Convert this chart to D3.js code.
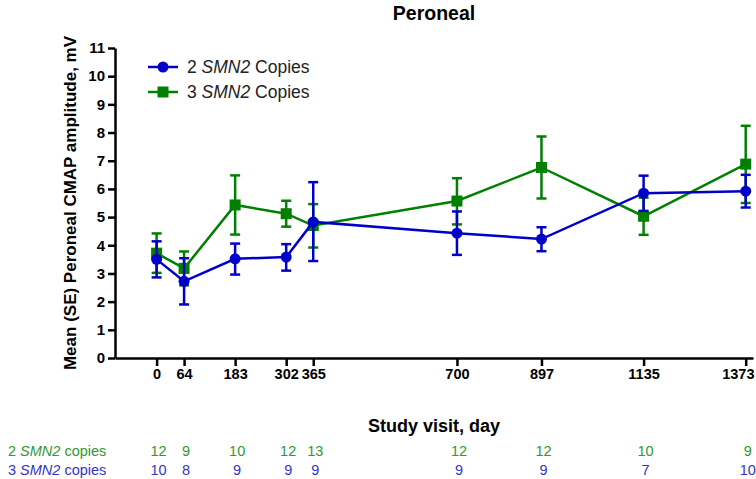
<!DOCTYPE html>
<html>
<head>
<meta charset="utf-8">
<script src="https://cdn.jsdelivr.net/npm/d3@7/dist/d3.min.js"></script>
<style>
  html, body { margin: 0; padding: 0; background: #fff; }
  svg { display: block; font-family: "Liberation Sans", Arial, sans-serif; }
</style>
</head>
<body>
<svg id="chart" width="756" height="479"></svg>
<script>
// Study visit days (x positions) and their tick labels
const days = [0, 64, 183, 302, 365, 700, 897, 1135, 1373];
const dayLabels = ["0", "64", "183", "302", "365", "700", "897", "1135", "1373"];

// 2 SMN2 copies: mean and SE bounds (mV)
const twoMean  = [3.50, 2.72, 3.52, 3.58, 4.83, 4.43, 4.22, 5.85, 5.92];
const twoLow   = [2.86, 1.90, 2.96, 3.10, 3.44, 3.66, 3.79, 5.22, 5.34];
const twoHigh  = [4.14, 3.54, 4.06, 4.04, 6.24, 5.20, 4.64, 6.47, 6.50];

// 3 SMN2 copies: mean and SE bounds (mV)
const threeMean = [3.72, 3.18, 5.43, 5.12, 4.70, 5.57, 6.76, 5.03, 6.88];
const threeLow  = [3.02, 2.58, 4.38, 4.66, 3.92, 4.74, 5.66, 4.37, 5.50];
const threeHigh = [4.42, 3.78, 6.48, 5.58, 5.46, 6.38, 7.86, 5.69, 8.24];

// Patients at each visit, as listed under the axis
const nRow1 = [12, 9, 10, 12, 13, 12, 12, 10, 9];
const nRow2 = [10, 8, 9, 9, 9, 9, 9, 7, 10];

const yTicks = d3.range(0, 12);

const blue = "#0000c8";
const green = "#008000";

const W = 756;
const svg = d3.select("#chart");

const x = d3.scaleLinear().domain([-97, 1390]).range([115, 753]);
const y = d3.scaleLinear().domain([0, 11]).range([358, 48]);

// Title
svg.append("text")
  .attr("x", 434).attr("y", 20)
  .attr("text-anchor", "middle")
  .attr("font-size", 19.5).attr("font-weight", "bold")
  .text("Peroneal");

// Y axis
const yAxis = svg.append("g")
  .attr("transform", `translate(${x.range()[0]},0)`)
  .call(d3.axisLeft(y).tickValues(yTicks).tickSize(7).tickPadding(3).tickSizeOuter(0));
yAxis.select(".domain").attr("stroke-width", 2.5);
yAxis.selectAll(".tick line").attr("stroke-width", 2.5);
yAxis.selectAll(".tick text")
  .attr("font-size", 15).attr("font-weight", "bold")
  .attr("font-family", "Liberation Sans, Arial, sans-serif");

// X axis
const xAxis = svg.append("g")
  .attr("transform", `translate(0,${y(0)})`)
  .call(d3.axisBottom(x).tickValues(days)
    .tickFormat((d, i) => dayLabels[i])
    .tickSize(8).tickPadding(3).tickSizeOuter(0));
xAxis.select(".domain").attr("stroke-width", 2.5);
xAxis.selectAll(".tick line").attr("stroke-width", 2.5);
xAxis.selectAll(".tick text")
  .attr("font-size", 14.5).attr("font-weight", "bold")
  .attr("font-family", "Liberation Sans, Arial, sans-serif");
// keep the last day label inside the frame: right-align it near the edge
const lastDay = days[days.length - 1];
xAxis.selectAll(".tick text").filter(d => d === lastDay)
  .attr("text-anchor", "end")
  .attr("x", (W - 2) - x(lastDay));

// Y axis title
svg.append("text")
  .attr("transform", `translate(76,${(y(0) + y(11)) / 2}) rotate(-90)`)
  .attr("text-anchor", "middle")
  .attr("font-size", 17).attr("font-weight", "bold")
  .text("Mean (SE) Peroneal CMAP amplitude, mV");

// X axis title
svg.append("text")
  .attr("x", 434).attr("y", 432)
  .attr("text-anchor", "middle")
  .attr("font-size", 18).attr("font-weight", "bold")
  .text("Study visit, day");

const line = d3.line().x(d => x(d[0])).y(d => y(d[1]));

function drawSeries(mean, low, high, color, marker) {
  const g = svg.append("g");
  const pts = days.map((d, i) => [d, mean[i], low[i], high[i]]);
  g.append("path")
    .attr("d", line(pts))
    .attr("fill", "none").attr("stroke", color).attr("stroke-width", 2.5);
  const eb = g.selectAll(".eb").data(pts).enter().append("g");
  eb.append("line")
    .attr("x1", d => x(d[0])).attr("x2", d => x(d[0]))
    .attr("y1", d => y(d[2])).attr("y2", d => y(d[3]))
    .attr("stroke", color).attr("stroke-width", 2.5);
  eb.append("line")
    .attr("x1", d => x(d[0]) - 5).attr("x2", d => x(d[0]) + 5)
    .attr("y1", d => y(d[2])).attr("y2", d => y(d[2]))
    .attr("stroke", color).attr("stroke-width", 2.5);
  eb.append("line")
    .attr("x1", d => x(d[0]) - 5).attr("x2", d => x(d[0]) + 5)
    .attr("y1", d => y(d[3])).attr("y2", d => y(d[3]))
    .attr("stroke", color).attr("stroke-width", 2.5);
  if (marker === "circle") {
    g.selectAll(".m").data(pts).enter().append("circle")
      .attr("cx", d => x(d[0])).attr("cy", d => y(d[1])).attr("r", 5.5)
      .attr("fill", color);
  } else {
    g.selectAll(".m").data(pts).enter().append("rect")
      .attr("x", d => x(d[0]) - 5.5).attr("y", d => y(d[1]) - 5.5)
      .attr("width", 11).attr("height", 11)
      .attr("fill", color);
  }
}

drawSeries(threeMean, threeLow, threeHigh, green, "square");
drawSeries(twoMean, twoLow, twoHigh, blue, "circle");

// Legend
const legend = svg.append("g");
const legendItems = [
  { color: blue, marker: "circle", num: "2 ", gene: "SMN2", rest: " Copies", y: 67 },
  { color: green, marker: "square", num: "3 ", gene: "SMN2", rest: " Copies", y: 92 }
];
legendItems.forEach(it => {
  legend.append("line")
    .attr("x1", 148).attr("x2", 178).attr("y1", it.y).attr("y2", it.y)
    .attr("stroke", it.color).attr("stroke-width", 2.5);
  if (it.marker === "circle") {
    legend.append("circle").attr("cx", 163).attr("cy", it.y).attr("r", 5.5).attr("fill", it.color);
  } else {
    legend.append("rect").attr("x", 157.5).attr("y", it.y - 5.5).attr("width", 11).attr("height", 11).attr("fill", it.color);
  }
  const t = legend.append("text")
    .attr("x", 187).attr("y", it.y + 6)
    .attr("font-size", 17.5).attr("fill", "#222");
  t.append("tspan").text(it.num);
  t.append("tspan").attr("font-style", "italic").text(it.gene);
  t.append("tspan").text(it.rest);
});

// Patient counts table under the axis
const rows = [
  { counts: nRow1, color: "#2e9a2e", num: "2 ", y: 456 },
  { counts: nRow2, color: "#3434cc", num: "3 ", y: 475 }
];
rows.forEach(r => {
  const t = svg.append("text")
    .attr("x", 8).attr("y", r.y)
    .attr("font-size", 14.5).attr("fill", r.color);
  t.append("tspan").text(r.num);
  t.append("tspan").attr("font-style", "italic").text("SMN2");
  t.append("tspan").text(" copies");
  svg.append("g").selectAll("text").data(r.counts).enter().append("text")
    .attr("x", (d, i) => x(days[i]) + 2)
    .attr("y", r.y)
    .attr("text-anchor", "middle")
    .attr("font-size", 14.5).attr("fill", r.color)
    .text(d => d);
});
</script>
</body>
</html>
